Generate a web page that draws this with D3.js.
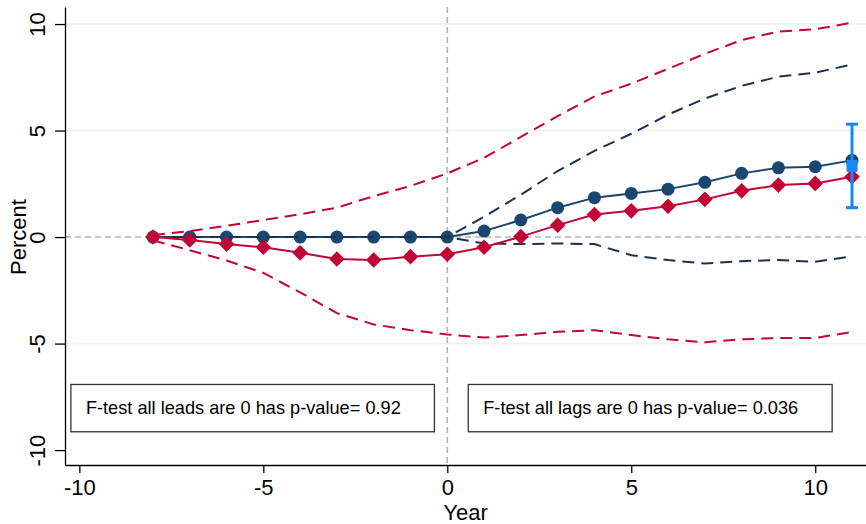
<!DOCTYPE html>
<html>
<head>
<meta charset="utf-8">
<script src="https://cdn.jsdelivr.net/npm/d3@7"></script>
<style>
	body { margin: 0; background: #fff; }
	svg { display: block; font-family: "Liberation Sans", Arial, Helvetica, sans-serif; }
	.axis path, .axis line { stroke: #000; stroke-width: 1.3; }
	.axis text { font-size: 22px; fill: #000; }
</style>
</head>
<body>
<div id="graph"></div>
<script>
// event time (years relative to treatment)
var years = [-8,-7,-6,-5,-4,-3,-2,-1,0,1,2,3,4,5,6,7,8,9,10,11];

// blue series (circles) and its confidence band
var blueEst = [0,0,0,0,0,0,0,0,0,0.28,0.8,1.38,1.85,2.05,2.25,2.57,2.99,3.25,3.3,3.6];
var blueLo  = [0,0,0,0,0,0,0,0,0,-0.3,-0.33,-0.3,-0.33,-0.85,-1.08,-1.24,-1.13,-1.08,-1.16,-0.9];
var blueHi  = [0,0,0,0,0,0,0,0,0,0.95,1.99,3.1,4.05,4.85,5.75,6.5,7.1,7.53,7.72,8.1];

// red series (diamonds) and its confidence band
var redEst = [0,-0.14,-0.33,-0.48,-0.74,-1.03,-1.08,-0.92,-0.81,-0.48,0.02,0.56,1.06,1.23,1.45,1.77,2.17,2.44,2.52,2.83];
var redLo  = [-0.15,-0.62,-1.1,-1.68,-2.6,-3.57,-4.1,-4.37,-4.57,-4.72,-4.6,-4.45,-4.37,-4.6,-4.8,-4.94,-4.8,-4.74,-4.74,-4.45];
var redHi  = [0.1,0.28,0.53,0.8,1.07,1.38,1.92,2.4,2.99,3.72,4.7,5.68,6.6,7.2,7.9,8.6,9.25,9.65,9.75,10.07];

// single estimate with error bar at the end
var barYear = [11];
var barEst = [3.34];
var barLo = [1.38];
var barHi = [5.3];

var xTicks = [-10,-5,0,5,10];
var yTicks = [-10,-5,0,5,10];
var gridTicks = [-5,5,10];
var boxTexts = ["F-test all leads are 0 has p-value= 0.92", "F-test all lags are 0 has p-value= 0.036"];

var width = 866, height = 524;

var graph = d3.select("div#graph")
	.append("svg")
	.attr("width", width)
	.attr("height", height);

var xScale = d3.scaleLinear()
	.range([65, 866])
	.domain([-10.39, 11.38]);

var yScale = d3.scaleLinear()
	.range([465, 7])
	.domain([-10.7, 10.8]);

/* light grid lines */
graph.selectAll("line.grid").data(gridTicks).enter()
	.append("line")
	.attr("class", "grid")
	.attr("x1", xScale.range()[0]).attr("x2", xScale.range()[1])
	.attr("y1", d => yScale(d)).attr("y2", d => yScale(d))
	.attr("stroke", "#eaf2f3")
	.attr("stroke-width", 1.6);

/* reference lines at zero */
graph.append("line")
	.attr("x1", xScale.range()[0]).attr("x2", xScale.range()[1])
	.attr("y1", yScale(0)).attr("y2", yScale(0))
	.attr("stroke", "#b4b4b4").attr("stroke-width", 1.6)
	.attr("stroke-dasharray", "6,4");
graph.append("line")
	.attr("x1", xScale(0)).attr("x2", xScale(0))
	.attr("y1", yScale.range()[1]).attr("y2", yScale.range()[0])
	.attr("stroke", "#b4b4b4").attr("stroke-width", 1.6)
	.attr("stroke-dasharray", "6,4");

/* annotation boxes */
var boxes = [
	{x0: -10.23, x1: -0.35, text: boxTexts[0]},
	{x0: 0.57, x1: 10.46, text: boxTexts[1]}
];
boxes.forEach(function(b) {
	graph.append("rect")
		.attr("x", xScale(b.x0))
		.attr("y", yScale(-6.92))
		.attr("width", xScale(b.x1) - xScale(b.x0))
		.attr("height", yScale(-9.14) - yScale(-6.92))
		.attr("fill", "#fff")
		.attr("stroke", "#333")
		.attr("stroke-width", 1.3);
	graph.append("text")
		.attr("x", xScale(b.x0) + 15)
		.attr("y", yScale(-8.03))
		.attr("dy", "0.35em")
		.style("font-size", "18.2px")
		.text(b.text);
});

var line = d3.line()
	.x((d, i) => xScale(years[i]))
	.y(d => yScale(d));

function dashed(values, color) {
	graph.append("path").datum(values)
		.attr("fill", "none")
		.attr("stroke", color)
		.attr("stroke-width", 2)
		.attr("stroke-dasharray", "12,7")
		.attr("d", line);
}

// blue estimate
graph.append("path").datum(blueEst)
	.attr("fill", "none")
	.attr("stroke", "#1a476f")
	.attr("stroke-width", 2)
	.attr("d", line);
graph.selectAll("circle.blue").data(blueEst).enter()
	.append("circle")
	.attr("class", "blue")
	.attr("cx", (d, i) => xScale(years[i]))
	.attr("cy", d => yScale(d))
	.attr("r", 6.5)
	.attr("fill", "#1a476f");

dashed(blueLo, "#1c2f55");
dashed(blueHi, "#1c2f55");

// red estimate
graph.append("path").datum(redEst)
	.attr("fill", "none")
	.attr("stroke", "#c10534")
	.attr("stroke-width", 2)
	.attr("d", line);
graph.selectAll("path.red").data(redEst).enter()
	.append("path")
	.attr("class", "red")
	.attr("transform", (d, i) => `translate(${xScale(years[i])},${yScale(d)})`)
	.attr("d", "M0,-7.8L7.8,0L0,7.8L-7.8,0Z")
	.attr("fill", "#c10534");

dashed(redLo, "#c10534");
dashed(redHi, "#c10534");

// error bar
barYear.forEach(function(yr, i) {
	var cx = xScale(yr);
	graph.append("line")
		.attr("x1", cx).attr("x2", cx)
		.attr("y1", yScale(barLo[i])).attr("y2", yScale(barHi[i]))
		.attr("stroke", "#1787f5").attr("stroke-width", 3);
	[barLo[i], barHi[i]].forEach(function(v) {
		graph.append("line")
			.attr("x1", cx - 6).attr("x2", cx + 6)
			.attr("y1", yScale(v)).attr("y2", yScale(v))
			.attr("stroke", "#1787f5").attr("stroke-width", 3);
	});
	graph.append("rect")
		.attr("x", cx - 5.5).attr("y", yScale(barEst[i]) - 6)
		.attr("width", 11).attr("height", 12)
		.attr("fill", "#1787f5");
});

/* axes */
var xAxis = d3.axisBottom(xScale)
	.tickValues(xTicks)
	.tickFormat(d => String(d))
	.tickSize(8)
	.tickSizeOuter(0)
	.tickPadding(6);
var yAxis = d3.axisLeft(yScale)
	.tickValues(yTicks)
	.tickFormat(d => String(d))
	.tickSize(10)
	.tickSizeOuter(0);

graph.append("g")
	.attr("class", "x axis")
	.attr("transform", `translate(0, ${yScale.range()[0]})`)
	.call(xAxis)
	.selectAll("text")
	.attr("font-family", null)
	.attr("font-size", null);

graph.append("g")
	.attr("class", "y axis")
	.attr("transform", `translate(${xScale.range()[0]}, 0)`)
	.call(yAxis)
	.selectAll("text")
	.attr("font-family", null)
	.attr("font-size", null)
	.attr("x", null).attr("dy", null)
	.style("text-anchor", "middle")
	.attr("transform", "translate(-20,0) rotate(-90)");

graph.selectAll(".axis .domain").attr("stroke-width", 1.3);

graph.append("text")
	.attr("transform", `translate(26, ${yScale(0)}) rotate(-90)`)
	.style("text-anchor", "middle")
	.style("font-size", "22px")
	.text("Percent");

graph.append("text")
	.attr("x", (xScale.range()[0] + xScale.range()[1]) / 2)
	.attr("y", 520)
	.style("text-anchor", "middle")
	.style("font-size", "22px")
	.text("Year");
</script>
</body>
</html>
